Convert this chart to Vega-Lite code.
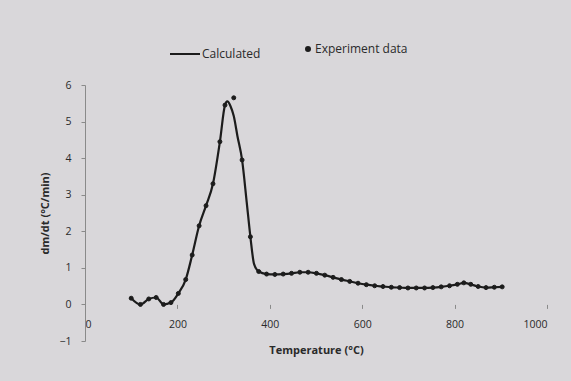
{
  "$schema": "https://vega.github.io/schema/vega-lite/v6.json",
  "width": 462,
  "height": 256,
  "autosize": {"type": "none"},
  "padding": {"left": 85, "top": 85, "right": 24, "bottom": 40},
  "background": "#d9d7da",
  "config": {
    "view": {"stroke": null},
    "font": "Open Sans",
    "axis": {"labelFont": "Open Sans", "titleFont": "Open Sans", "labelColor": "#2a2a2a", "titleColor": "#2a2a2a", "domainColor": "#8a8a8a", "tickColor": "#8a8a8a", "grid": false, "labelFontSize": 10.5, "titleFontSize": 11, "titleFontWeight": "bold"}
  },
  "data": {
    "values": [
      {"T": 100, "Calculated": 0.17, "Experiment data": 0.17},
      {"T": 120, "Calculated": 0.0, "Experiment data": 0.0},
      {"T": 138, "Calculated": 0.15, "Experiment data": 0.15},
      {"T": 154, "Calculated": 0.19, "Experiment data": 0.19},
      {"T": 170, "Calculated": 0.0, "Experiment data": 0.0},
      {"T": 186, "Calculated": 0.05, "Experiment data": 0.05},
      {"T": 202, "Calculated": 0.3, "Experiment data": 0.3},
      {"T": 218, "Calculated": 0.68, "Experiment data": 0.68},
      {"T": 232, "Calculated": 1.35, "Experiment data": 1.35},
      {"T": 247, "Calculated": 2.15, "Experiment data": 2.15},
      {"T": 262, "Calculated": 2.7, "Experiment data": 2.7},
      {"T": 277, "Calculated": 3.3, "Experiment data": 3.3},
      {"T": 292, "Calculated": 4.45, "Experiment data": 4.45},
      {"T": 303, "Calculated": 5.45, "Experiment data": 5.45},
      {"T": 308, "Calculated": 5.55, "Experiment data": null},
      {"T": 315, "Calculated": 5.42, "Experiment data": null},
      {"T": 322, "Calculated": 5.15, "Experiment data": 5.65},
      {"T": 330, "Calculated": 4.6, "Experiment data": null},
      {"T": 340, "Calculated": 3.95, "Experiment data": 3.95},
      {"T": 350, "Calculated": 2.8, "Experiment data": null},
      {"T": 358, "Calculated": 1.85, "Experiment data": 1.85},
      {"T": 366, "Calculated": 1.1, "Experiment data": null},
      {"T": 376, "Calculated": 0.9, "Experiment data": 0.9},
      {"T": 393, "Calculated": 0.83, "Experiment data": 0.83},
      {"T": 411, "Calculated": 0.82, "Experiment data": 0.82},
      {"T": 429, "Calculated": 0.83, "Experiment data": 0.83},
      {"T": 447, "Calculated": 0.85, "Experiment data": 0.85},
      {"T": 465, "Calculated": 0.88, "Experiment data": 0.88},
      {"T": 483, "Calculated": 0.88, "Experiment data": 0.88},
      {"T": 501, "Calculated": 0.85, "Experiment data": 0.85},
      {"T": 519, "Calculated": 0.8, "Experiment data": 0.8},
      {"T": 537, "Calculated": 0.74, "Experiment data": 0.74},
      {"T": 555, "Calculated": 0.68, "Experiment data": 0.68},
      {"T": 573, "Calculated": 0.63, "Experiment data": 0.63},
      {"T": 591, "Calculated": 0.58, "Experiment data": 0.58},
      {"T": 609, "Calculated": 0.54, "Experiment data": 0.54},
      {"T": 627, "Calculated": 0.51, "Experiment data": 0.51},
      {"T": 645, "Calculated": 0.49, "Experiment data": 0.49},
      {"T": 663, "Calculated": 0.47, "Experiment data": 0.47},
      {"T": 681, "Calculated": 0.46, "Experiment data": 0.46},
      {"T": 699, "Calculated": 0.45, "Experiment data": 0.45},
      {"T": 717, "Calculated": 0.45, "Experiment data": 0.45},
      {"T": 735, "Calculated": 0.45, "Experiment data": 0.45},
      {"T": 753, "Calculated": 0.46, "Experiment data": 0.46},
      {"T": 771, "Calculated": 0.48, "Experiment data": 0.48},
      {"T": 789, "Calculated": 0.51, "Experiment data": 0.51},
      {"T": 806, "Calculated": 0.55, "Experiment data": 0.55},
      {"T": 820, "Calculated": 0.59, "Experiment data": 0.59},
      {"T": 835, "Calculated": 0.55, "Experiment data": 0.55},
      {"T": 851, "Calculated": 0.49, "Experiment data": 0.49},
      {"T": 868, "Calculated": 0.46, "Experiment data": 0.46},
      {"T": 886, "Calculated": 0.47, "Experiment data": 0.47},
      {"T": 903, "Calculated": 0.48, "Experiment data": 0.48}
    ]
  },
  "transform": [
    {"fold": ["Calculated", "Experiment data"], "as": ["series", "value"]},
    {"filter": "isValid(datum.value)"}
  ],
  "encoding": {
    "x": {
      "field": "T", "type": "quantitative",
      "scale": {"domain": [0, 1000], "nice": false},
      "axis": {"title": "Temperature (\u00b0C)", "values": [0, 200, 400, 600, 800, 1000], "format": "d", "offset": -36.6, "tickSize": 4, "labelPadding": 11, "titlePadding": 15, "domain": false}
    },
    "y": {
      "field": "value", "type": "quantitative",
      "scale": {"domain": [-1, 6], "nice": false, "zero": false},
      "axis": {"title": "dm/dt (\u00b0C/min)", "values": [-1, 0, 1, 2, 3, 4, 5, 6], "tickSize": 4, "labelPadding": 10, "titlePadding": 8}
    }
  },
  "layer": [
    {
      "mark": {"type": "rule", "color": "#8a8a8a", "strokeWidth": 1},
      "data": {"values": [{"a": 0}]},
      "transform": [],
      "encoding": {"y": {"datum": 0, "type": "quantitative"}, "x": {"datum": 0, "type": "quantitative"}, "x2": {"datum": 1000}}
    },
    {
      "transform": [{"filter": "datum.series == 'Calculated'"}],
      "mark": {"type": "line", "color": "#1c1c1c", "strokeWidth": 2.2, "interpolate": "monotone"}
    },
    {
      "transform": [{"filter": "datum.series == 'Experiment data'"}],
      "mark": {"type": "point", "filled": true, "fill": "#1c1c1c", "stroke": "#1c1c1c", "strokeWidth": 1, "opacity": 1, "fillOpacity": 1, "strokeOpacity": 1},
      "encoding": {
        "shape": {
          "field": "series", "type": "nominal",
          "scale": {"domain": ["Calculated", "Experiment data"], "range": ["stroke", "circle"]},
          "legend": {"orient": "none", "legendX": 84, "legendY": -47, "direction": "horizontal", "title": null, "labelFont": "Open Sans", "labelFontSize": 12, "labelColor": "#2a2a2a", "symbolStrokeColor": "#1c1c1c", "symbolFillColor": "#1c1c1c", "symbolStrokeWidth": 2, "symbolOpacity": 1, "columnPadding": 41, "labelOffset": 1}
        },
        "size": {
          "field": "series", "type": "nominal",
          "scale": {"domain": ["Calculated", "Experiment data"], "range": [900, 16]}
        }
      }
    }
  ]
}
